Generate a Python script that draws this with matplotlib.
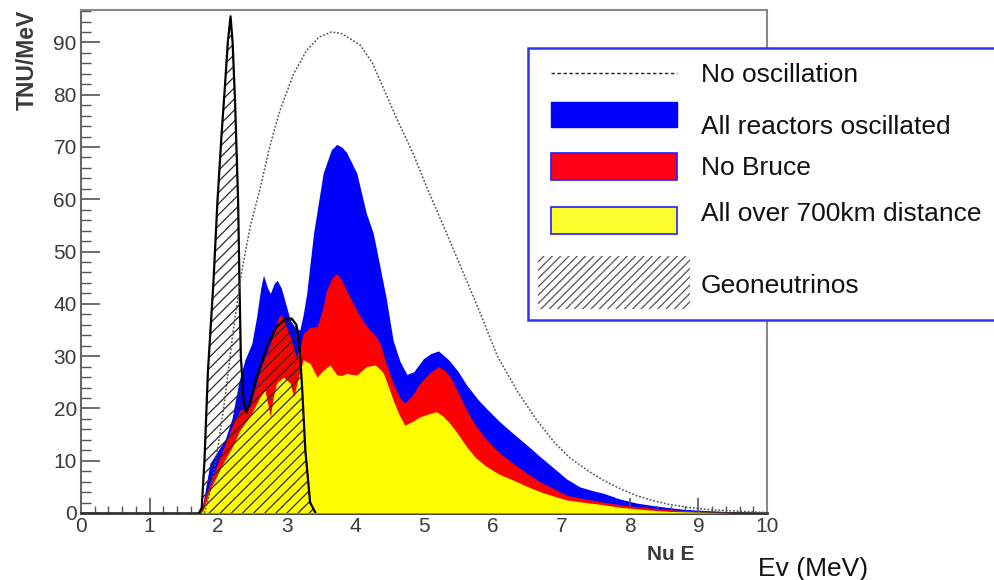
import matplotlib
matplotlib.use("Agg")
import matplotlib.pyplot as plt
from matplotlib.patches import Rectangle
from matplotlib.ticker import MultipleLocator

plt.rcParams['font.family'] = ['Liberation Sans', 'DejaVu Sans']
plt.rcParams['hatch.linewidth'] = 0.9

# energies in MeV, rates in TNU/MeV
e_noosc = [1.8, 1.9, 2.0, 2.1, 2.22, 2.34, 2.47, 2.61, 2.75, 2.9, 3.1, 3.29, 3.47, 3.65, 3.8,
           4.07, 4.25, 4.4, 4.6, 4.84, 5.05, 5.33, 5.5, 5.82, 6.07, 6.35, 6.64, 6.9, 7.13,
           7.4, 7.61, 7.85, 8.1, 8.36, 8.59, 8.9, 9.2, 9.5, 9.8, 10.0]
noosc = [0, 5, 13, 22, 35, 46, 55, 62, 70, 77, 84, 88.5, 91, 92, 91.7,
         89.5, 86, 81.5, 75.5, 68.8, 62, 53.5, 48.2, 38.2, 30, 23.5, 17.8, 13.5, 10.5,
         8, 6.3, 4.7, 3.3, 2.3, 1.6, 1.0, 0.6, 0.4, 0.2, 0.1]

e_all = [1.72, 1.78, 1.88, 2.0, 2.1, 2.2, 2.3, 2.39, 2.49, 2.56, 2.62, 2.66, 2.72, 2.76,
         2.82, 2.86, 2.92, 2.97, 3.05, 3.12, 3.19, 3.24, 3.29, 3.39, 3.53, 3.65, 3.73,
         3.8, 3.87, 4.02, 4.16, 4.26, 4.36, 4.45, 4.55, 4.65, 4.75, 4.85, 4.99, 5.1,
         5.21, 5.3, 5.38, 5.5, 5.62, 5.8, 5.91, 6.1, 6.3, 6.5, 6.69, 6.9, 7.08, 7.27,
         7.45, 7.61, 7.85, 8.1, 8.35, 8.59, 8.8, 9.07, 9.4, 9.7, 9.9]
all_osc = [0, 2, 9.5, 12, 14, 18, 25, 29.3, 32.4, 37.5, 43, 45.5, 43, 42,
           44, 44.5, 43, 40.7, 36.9, 35.5, 35, 38, 42, 53.5, 65, 69.5, 70.5,
           70, 69, 65, 57.3, 53.5, 47, 41, 33, 29, 26.5, 27, 29.5, 30.5,
           31, 30, 29, 27, 24.5, 21.5, 20, 17.5, 15.2, 13, 10.8, 8.5, 6.5, 5,
           4.3, 3.8, 2.7, 1.9, 1.4, 1.0, 0.7, 0.5, 0.3, 0.2, 0]

e_nobruce = [1.73, 1.78, 1.88, 2.03, 2.22, 2.32, 2.46, 2.61, 2.76, 2.88, 2.92, 2.98, 3.05,
             3.14, 3.2, 3.24, 3.34, 3.44, 3.52, 3.58, 3.66, 3.73, 3.8, 3.87, 3.95, 4.02,
             4.12, 4.21, 4.29, 4.36, 4.45, 4.55, 4.65, 4.72, 4.83, 4.94, 5.08, 5.21, 5.3,
             5.38, 5.5, 5.62, 5.75, 5.91, 6.1, 6.3, 6.5, 6.69, 6.9, 7.08, 7.3, 7.61, 7.85,
             8.1, 8.35, 8.59, 8.9, 9.2, 9.5, 9.8, 9.9]
nobruce = [0, 2, 5.7, 10.8, 17.1, 19.7, 20.3, 27.3, 32.4, 37.5, 37.9, 36, 33.7,
           29.9, 32, 34.4, 35.5, 35.6, 39, 42.6, 45, 45.8, 44.5, 42.6, 40.5, 38.8,
           36.5, 35, 34, 32.4, 28.5, 24.8, 22, 21, 22.5, 24.8, 26.8, 28, 27.3,
           26.1, 23, 19.7, 16.8, 14, 11.5, 9.5, 7.6, 6, 4.6, 3.4, 2.8, 2.1, 1.6,
           1.2, 0.9, 0.6, 0.4, 0.3, 0.2, 0.1, 0]

e_far = [1.74, 1.78, 1.88, 2.07, 2.2, 2.32, 2.46, 2.61, 2.68, 2.72, 2.76, 2.8, 2.85, 2.95,
         3.05, 3.1, 3.17, 3.24, 3.34, 3.44, 3.53, 3.63, 3.73, 3.8, 3.87, 3.95, 4.02,
         4.16, 4.29, 4.36, 4.41, 4.5, 4.55, 4.63, 4.72, 4.83, 4.94, 5.08, 5.18, 5.28,
         5.38, 5.5, 5.62, 5.75, 5.91, 6.1, 6.3, 6.5, 6.69, 6.9, 7.08, 7.3, 7.61, 7.85,
         8.1, 8.35, 8.59, 8.9, 9.2, 9.5]
far = [0, 0.5, 4.4, 9.5, 12.5, 15.9, 18.4, 22.2, 23.5, 21, 18.4, 22, 24.8, 26,
       24.8, 22.2, 26, 29.3, 28.6, 26, 27.3, 28.3, 26.4, 26.3, 26.7, 26.5, 26.4,
       28, 28.3, 27.5, 26.7, 23.5, 21.6, 19, 16.8, 17.5, 18.4, 19, 19.4, 18.5,
       17.1, 15, 12.7, 10.6, 8.9, 7.4, 6.3, 5.1, 4.1, 3.2, 2.5, 2.1, 1.6, 1.1,
       0.8, 0.5, 0.3, 0.2, 0.1, 0]

e_geo = [1.72, 1.76, 1.80, 1.85, 1.93, 1.99, 2.05, 2.10, 2.14, 2.18, 2.21, 2.245, 2.29,
         2.31, 2.33, 2.37, 2.41, 2.46, 2.56, 2.71, 2.85, 2.97, 3.07, 3.14, 3.18, 3.22,
         3.27, 3.34, 3.42]
geo = [0, 1, 10, 27, 44, 59.8, 72.6, 82, 90, 95, 90, 79, 59.8,
       44, 30, 21.6, 19.1, 21, 26, 31.8, 35.6, 37, 37.2, 36, 33, 24.8,
       12, 2, 0]

labels = ["No oscillation", "All reactors oscillated", "No Bruce",
          "All over 700km distance", "Geoneutrinos"]

fig = plt.figure(figsize=(9.94, 5.8), dpi=100)
ax = fig.add_axes([81 / 994, 1 - 513 / 580, 686 / 994, 503 / 580])

ax.fill_between(e_all, all_osc, color='#0000ff', lw=0, zorder=1)
ax.fill_between(e_nobruce, nobruce, color='#ff0000', lw=0, zorder=2)
ax.fill_between(e_far, far, color='#ffff00', lw=0, zorder=3)
ax.fill_between(e_geo, geo, facecolor='none', edgecolor='#2a2a2a', hatch='///', lw=0, zorder=4)
ax.plot(e_geo, geo, color='black', lw=1.6, zorder=5)
ax.plot(e_noosc, noosc, color='#555555', lw=1.1, ls=(0, (1.2, 1.2)), zorder=6)

ax.set_xlim(0, 10)
ax.set_ylim(0, 96.2)
ax.xaxis.set_major_locator(MultipleLocator(1))
ax.xaxis.set_minor_locator(MultipleLocator(0.2))
ax.yaxis.set_major_locator(MultipleLocator(10))
ax.yaxis.set_minor_locator(MultipleLocator(2))
ax.tick_params(which='both', direction='in', colors='#555555', labelcolor='#3a3a3a',
               labelsize=15, top=False, right=False)
ax.tick_params(axis='x', which='major', length=11, width=1.2, pad=3)
ax.tick_params(axis='x', which='minor', length=5, width=1.0)
ax.tick_params(axis='y', which='major', length=14, width=1.2, pad=3)
ax.tick_params(axis='y', which='minor', length=7, width=1.0)
for s in ['top', 'right', 'left']:
    ax.spines[s].set_color('#888888')
    ax.spines[s].set_linewidth(1.5)
ax.spines['bottom'].set_color('#333333')
ax.spines['bottom'].set_linewidth(2.0)
ax.spines['left'].set_color('#666666')

fig.text(27 / 994, 1 - 10 / 580, "TNU/MeV", rotation=90, ha='center', va='top',
         fontsize=16.5, fontweight='bold', color='#3a3a3a')
fig.text(694 / 994, 1 - 554 / 580, "Nu E", ha='right', va='center',
         fontsize=15, fontweight='bold', color='#3a3a3a')
fig.text(758 / 994, 1 - 576 / 580, "Ev (MeV)", ha='left', va='baseline',
         fontsize=19, color='#111111')

# legend drawn in pixel coordinates on an overlay
lg = fig.add_axes([0, 0, 1, 1])
lg.set_xlim(0, 994)
lg.set_ylim(580, 0)
lg.axis('off')
lg.add_patch(Rectangle((528, 48), 480, 272, facecolor='white', edgecolor='#3030ff', lw=1.8))
lg.plot([551, 677], [73, 73], color='#222222', lw=1.0, ls=(0, (2.5, 1.8)))
lg.add_patch(Rectangle((551, 102), 126, 25, facecolor='#0000ff', edgecolor='#0000ff', lw=1))
lg.add_patch(Rectangle((551, 153), 126, 27, facecolor='#ff0018', edgecolor='#2020ff', lw=1.2))
lg.add_patch(Rectangle((551, 207), 126, 27, facecolor='#ffff30', edgecolor='#2020ff', lw=1.2))
lg.add_patch(Rectangle((538, 256), 152, 53, facecolor='white', edgecolor='#555555', lw=0,
                       hatch='////'))
text_y = [75, 127, 168, 214, 286]
for t, y in zip(labels, text_y):
    lg.text(701, y, t, ha='left', va='center', fontsize=19, color='#111111')

fig.savefig("out.png", dpi=100)
